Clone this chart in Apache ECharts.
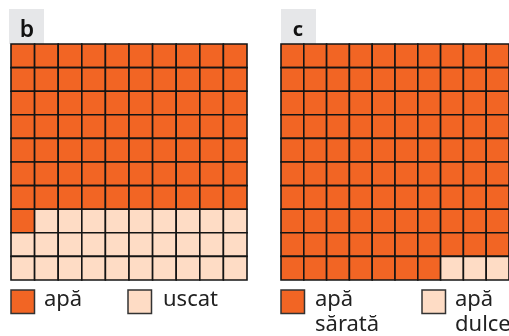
<!DOCTYPE html>
<html>
<head>
<meta charset="utf-8">
<script src="https://cdn.jsdelivr.net/npm/echarts@6/dist/echarts.min.js"></script>
<style>
  html, body { margin: 0; padding: 0; background: #fff; }
  #main { width: 509px; height: 336px; }
</style>
</head>
<body>
<div id="main"></div>
<script>
// 10x10 waffle grids
var cols = ['0', '1', '2', '3', '4', '5', '6', '7', '8', '9'];
var rows = ['0', '1', '2', '3', '4', '5', '6', '7', '8', '9'];

// panel b: apă / uscat
var namesB = ['apă', 'uscat'];
var countsB = [71, 29];
// panel c: apă sărată / apă dulce
var namesC = ['apă\nsărată', 'apă\ndulce'];
var countsC = [97, 3];

var colors = ['#f26524', '#fedcc5'];

// fill cells row by row from top-left
function cells(counts, k) {
  var start = 0;
  for (var j = 0; j < k; j++) start += counts[j];
  var out = [];
  for (var i = start; i < start + counts[k]; i++) {
    out.push([i % 10, Math.floor(i / 10)]);
  }
  return out;
}

function renderCell(params, api) {
  var p = api.coord([api.value(0), api.value(1)]);
  var s = api.size([1, 1]);
  return {
    type: 'rect',
    shape: { x: p[0] - s[0] / 2, y: p[1] - s[1] / 2, width: s[0], height: s[1] },
    style: { fill: api.visual('color'), stroke: '#141414', lineWidth: 1.6 }
  };
}

var chart = echarts.init(document.getElementById('main'));

var series = [];
[countsB, countsC].forEach(function(counts, g) {
  counts.forEach(function(c, k) {
    series.push({
      type: 'custom',
      name: (g == 0 ? namesB : namesC)[k],
      xAxisIndex: g,
      yAxisIndex: g,
      renderItem: renderCell,
      itemStyle: { color: colors[k] },
      silent: true,
      data: cells(counts, k)
    });
  });
});

var font = '"Noto Sans", "DejaVu Sans", sans-serif';

function legendItem(x, textX, color, text) {
  return [{
    type: 'rect',
    shape: { x: x, y: 290, width: 23.5, height: 23.5 },
    style: { fill: color, stroke: '#333', lineWidth: 1.5 }
  }, {
    type: 'text',
    x: textX,
    y: 287,
    style: { text: text, fill: '#222', font: '22px ' + font, lineHeight: 25, verticalAlign: 'top' }
  }];
}

var graphic = [
  { type: 'rect', shape: { x: 9, y: 9, width: 35, height: 35 }, style: { fill: '#e6e7e9' } },
  { type: 'text', x: 27, y: 30, style: { text: 'b', fill: '#111', font: '600 23px ' + font, align: 'center', verticalAlign: 'middle' } },
  { type: 'rect', shape: { x: 281, y: 9, width: 35, height: 35 }, style: { fill: '#e6e7e9' } },
  { type: 'text', x: 298, y: 30, style: { text: 'c', fill: '#111', font: 'bold 20px ' + font, align: 'center', verticalAlign: 'middle' } }
];
graphic = graphic
  .concat(legendItem(11, 44, colors[0], namesB[0]))
  .concat(legendItem(128, 163, colors[1], namesB[1]))
  .concat(legendItem(281, 315, colors[0], namesC[0]))
  .concat(legendItem(422, 455, colors[1], namesC[1]));

var option = {
  animation: false,
  backgroundColor: '#fff',
  grid: [
    { left: 11, top: 44, width: 236, height: 236 },
    { left: 281, top: 44, width: 236, height: 236 }
  ],
  xAxis: [
    { type: 'category', data: cols, gridIndex: 0, show: false },
    { type: 'category', data: cols, gridIndex: 1, show: false }
  ],
  yAxis: [
    { type: 'category', data: rows, gridIndex: 0, inverse: true, show: false },
    { type: 'category', data: rows, gridIndex: 1, inverse: true, show: false }
  ],
  graphic: graphic,
  series: series
};

chart.setOption(option);
</script>
</body>
</html>
